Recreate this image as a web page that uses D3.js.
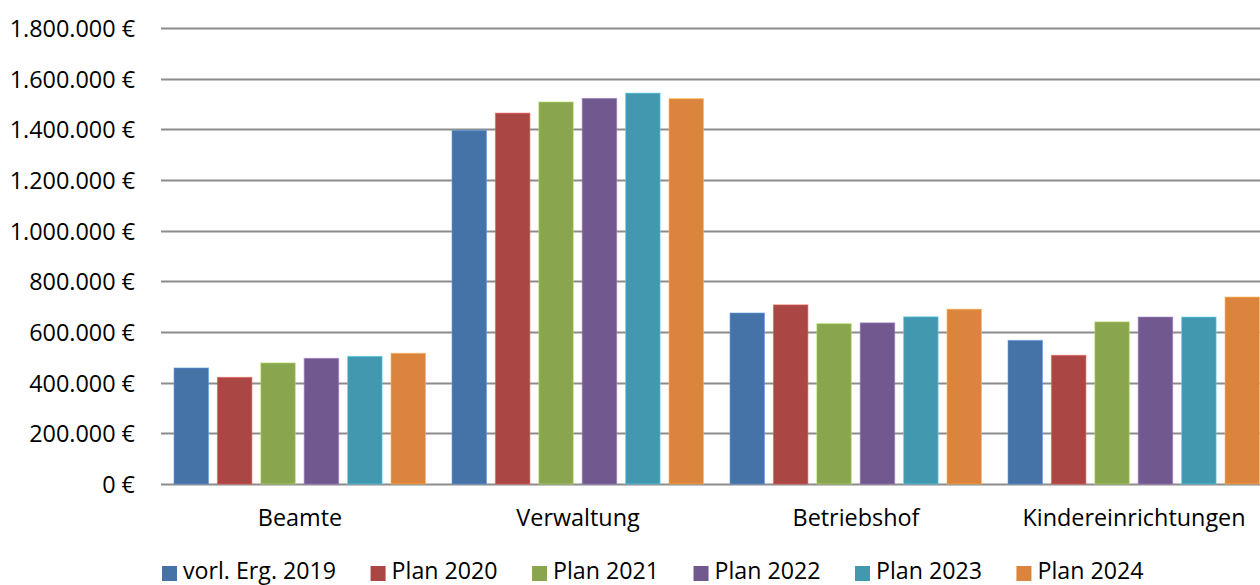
<!DOCTYPE html>
<html>
<head>
<meta charset="utf-8">
<script src="https://cdn.jsdelivr.net/npm/d3@7/dist/d3.min.js"></script>
<style>
  html, body { margin: 0; padding: 0; background: #ffffff; }
  svg { display: block; font-family: "Open Sans", "Noto Sans", sans-serif; }
</style>
</head>
<body>
<svg id="chart" width="1260" height="585"></svg>
<script>
// Personalkosten nach Bereich (vorläufiges Ergebnis 2019 und Planwerte 2020–2024)
const categories = ["Beamte", "Verwaltung", "Betriebshof", "Kindereinrichtungen"];
const seriesNames = ["vorl. Erg. 2019", "Plan 2020", "Plan 2021", "Plan 2022", "Plan 2023", "Plan 2024"];
const values2019 = [458000, 1396000, 675000, 567000];
const values2020 = [421000, 1464000, 707000, 508000];
const values2021 = [478000, 1508000, 633000, 640000];
const values2022 = [496000, 1522000, 636000, 659000];
const values2023 = [504000, 1543000, 660000, 659000];
const values2024 = [516000, 1521000, 690000, 738000];
const yTicks = [0, 200000, 400000, 600000, 800000, 1000000, 1200000, 1400000, 1600000, 1800000];
const colors = ["#4572A7", "#AA4643", "#89A54E", "#71588F", "#4198AF", "#DB843D"];

const seriesValues = [values2019, values2020, values2021, values2022, values2023, values2024];

const svg = d3.select("#chart");
const plotLeft = 161, plotRight = 1273, plotTop = 28, plotBottom = 484;

const de = d3.formatLocale({ decimal: ",", thousands: ".", grouping: [3], currency: ["", " €"] });
const fmt = v => de.format(",.0f")(v) + " €";

const y = d3.scaleLinear().domain([0, 1800000]).range([plotBottom, plotTop]);
const x0 = d3.scaleBand().domain(categories).range([plotLeft, plotRight]).padding(0);
const x1 = d3.scaleBand().domain(seriesNames).range([13, 264.5]).paddingInner(0.205).paddingOuter(0);

// gridlines
svg.append("g")
  .selectAll("line")
  .data(yTicks)
  .join("line")
  .attr("x1", plotLeft).attr("x2", 1260)
  .attr("y1", d => Math.round(y(d)) + 0.5).attr("y2", d => Math.round(y(d)) + 0.5)
  .attr("stroke", "#8c8c8c")
  .attr("stroke-width", 2);

// y axis labels
const yAxis = d3.axisLeft(y).tickValues(yTicks).tickFormat(fmt).tickSize(0).tickPadding(0);
const yg = svg.append("g").attr("transform", "translate(135,0)").call(yAxis);
yg.select(".domain").remove();
yg.selectAll("text")
  .attr("font-family", "Open Sans")
  .attr("font-size", "23.4px")
  .attr("fill", "#000")
  .attr("dy", "0.36em");

// bars
const groups = svg.append("g")
  .selectAll("g")
  .data(categories)
  .join("g")
  .attr("transform", d => `translate(${x0(d)},0)`);

groups.selectAll("rect")
  .data((c, ci) => seriesNames.map((s, si) => ({ s, si, v: seriesValues[si][ci] })))
  .join("rect")
  .attr("x", d => x1(d.s))
  .attr("width", x1.bandwidth())
  .attr("y", d => y(d.v))
  .attr("height", d => y(0) - y(d.v))
  .attr("fill", d => colors[d.si])
  .attr("stroke", d => d3.color(colors[d.si]).brighter(0.9))
  .attr("stroke-opacity", 0.6)
  .attr("stroke-width", 1);

// category axis labels
const xAxis = d3.axisBottom(x0).tickSize(0).tickPadding(0);
const xg = svg.append("g").attr("transform", "translate(0,518)").call(xAxis);
xg.select(".domain").remove();
xg.selectAll("text")
  .attr("font-family", "Open Sans")
  .attr("font-size", "23.4px")
  .attr("fill", "#000")
  .attr("dy", "0.36em");

// legend
const legend = svg.append("g").attr("font-size", "23.2px").attr("fill", "#000");
let lx = 162;
seriesNames.forEach((name, i) => {
  const item = legend.append("g").attr("transform", `translate(${lx},0)`);
  item.append("rect").attr("x", 0).attr("y", 566).attr("width", 15).attr("height", 15).attr("fill", colors[i]);
  const t = item.append("text").attr("x", 21).attr("y", 579).text(name);
  lx += 21 + t.node().getComputedTextLength() + 34.5;
});
</script>
</body>
</html>
